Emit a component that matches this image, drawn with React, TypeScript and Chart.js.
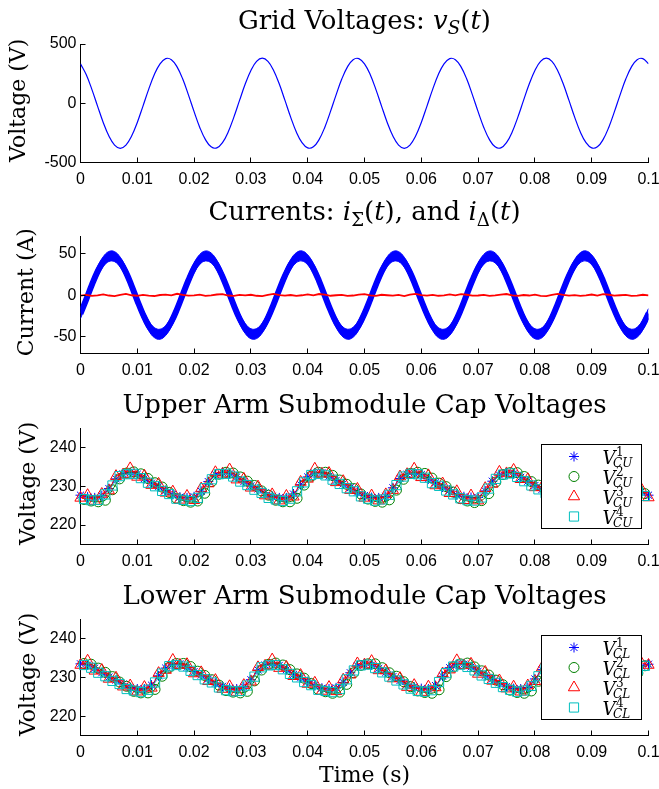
import React, { useEffect, useRef } from 'react';
import { Chart, registerables } from 'chart.js';
import { drawPoint } from 'chart.js/helpers';

Chart.register(...registerables);

const PAGE_W = 659;
const PAGE_H = 789;
const SERIF = '"DejaVu Serif", serif';
const SANS = '"Liberation Sans", Arial, sans-serif';
const BLUE = '#0000ff';
const GREEN = '#008000';
const RED = '#ff0000';
const CYAN = '#00bfbf';

// ---------- tick labels ----------
const xTickValues = [0, 0.01, 0.02, 0.03, 0.04, 0.05, 0.06, 0.07, 0.08, 0.09, 0.1];
const xTickLabels = ['0', '0.01', '0.02', '0.03', '0.04', '0.05', '0.06', '0.07', '0.08', '0.09', '0.1'];
const yTicksGrid = [-500, 0, 500];
const yTicksCurrent = [-50, 0, 50];
const yTicksCap = [220, 230, 240];

// ---------- time base (s) ----------
const timeFine = [
  0, 0.001, 0.002, 0.003, 0.004, 0.005, 0.006, 0.007, 0.008, 0.009,
  0.01, 0.011, 0.012, 0.013, 0.014, 0.015, 0.016, 0.017, 0.018, 0.019,
  0.02, 0.021, 0.022, 0.023, 0.024, 0.025, 0.026, 0.027, 0.028, 0.029,
  0.03, 0.031, 0.032, 0.033, 0.034, 0.035, 0.036, 0.037, 0.038, 0.039,
  0.04, 0.041, 0.042, 0.043, 0.044, 0.045, 0.046, 0.047, 0.048, 0.049,
  0.05, 0.051, 0.052, 0.053, 0.054, 0.055, 0.056, 0.057, 0.058, 0.059,
  0.06, 0.061, 0.062, 0.063, 0.064, 0.065, 0.066, 0.067, 0.068, 0.069,
  0.07, 0.071, 0.072, 0.073, 0.074, 0.075, 0.076, 0.077, 0.078, 0.079,
  0.08, 0.081, 0.082, 0.083, 0.084, 0.085, 0.086, 0.087, 0.088, 0.089,
  0.09, 0.091, 0.092, 0.093, 0.094, 0.095, 0.096, 0.097, 0.098, 0.099,
  0.1,
];

// ---------- grid voltage v_S (V) ----------
const gridVoltage = [
  333, 242, 117, -24, -162, -277, -353, -380, -353, -277,
  -162, -24, 117, 242, 333, 377, 368, 307, 204, 71,
  -71, -204, -307, -368, -377, -333, -242, -117, 24, 162,
  277, 353, 380, 353, 277, 162, 24, -117, -242, -333,
  -377, -368, -307, -204, -71, 71, 204, 307, 368, 377,
  333, 242, 117, -24, -162, -277, -353, -380, -353, -277,
  -162, -24, 117, 242, 333, 377, 368, 307, 204, 71,
  -71, -204, -307, -368, -377, -333, -242, -117, 24, 162,
  277, 353, 380, 353, 277, 162, 24, -117, -242, -333,
  -377, -368, -307, -204, -71, 71, 204, 307, 368, 377,
  333,
];

// ---------- i_Sigma (A): centre and ripple envelope ----------
const iSigma = [
  -22.1, -5.3, 12.2, 28.1, 40.0, 46.3, 46.1, 39.4, 27.2, 11.1,
  -6.5, -23.1, -36.6, -44.9, -46.9, -42.3, -31.8, -16.8, 0.6, 17.8,
  32.6, 42.8, 46.9, 44.5, 35.8, 22.1, 5.3, -12.2, -28.1, -40.0,
  -46.3, -46.1, -39.4, -27.2, -11.1, 6.5, 23.1, 36.6, 44.9, 46.9,
  42.3, 31.8, 16.8, -0.6, -17.8, -32.6, -42.8, -46.9, -44.5, -35.8,
  -22.1, -5.3, 12.2, 28.1, 40.0, 46.3, 46.1, 39.4, 27.2, 11.1,
  -6.5, -23.1, -36.6, -44.9, -46.9, -42.3, -31.8, -16.8, 0.6, 17.8,
  32.6, 42.8, 46.9, 44.5, 35.8, 22.1, 5.3, -12.2, -28.1, -40.0,
  -46.3, -46.1, -39.4, -27.2, -11.1, 6.5, 23.1, 36.6, 44.9, 46.9,
  42.3, 31.8, 16.8, -0.6, -17.8, -32.6, -42.8, -46.9, -44.5, -35.8,
  -22.1,
];
const iSigmaUpper = [
  -16.1, 0.7, 18.2, 34.1, 46.0, 52.3, 52.1, 45.4, 33.2, 17.1,
  -0.5, -17.1, -30.6, -38.9, -40.9, -36.3, -25.8, -10.8, 6.6, 23.8,
  38.6, 48.8, 52.9, 50.5, 41.8, 28.1, 11.3, -6.2, -22.1, -34.0,
  -40.3, -40.1, -33.4, -21.2, -5.1, 12.5, 29.1, 42.6, 50.9, 52.9,
  48.3, 37.8, 22.8, 5.4, -11.8, -26.6, -36.8, -40.9, -38.5, -29.8,
  -16.1, 0.7, 18.2, 34.1, 46.0, 52.3, 52.1, 45.4, 33.2, 17.1,
  -0.5, -17.1, -30.6, -38.9, -40.9, -36.3, -25.8, -10.8, 6.6, 23.8,
  38.6, 48.8, 52.9, 50.5, 41.8, 28.1, 11.3, -6.2, -22.1, -34.0,
  -40.3, -40.1, -33.4, -21.2, -5.1, 12.5, 29.1, 42.6, 50.9, 52.9,
  48.3, 37.8, 22.8, 5.4, -11.8, -26.6, -36.8, -40.9, -38.5, -29.8,
  -16.1,
];
const iSigmaLower = [
  -28.1, -11.3, 6.2, 22.1, 34.0, 40.3, 40.1, 33.4, 21.2, 5.1,
  -12.5, -29.1, -42.6, -50.9, -52.9, -48.3, -37.8, -22.8, -5.4, 11.8,
  26.6, 36.8, 40.9, 38.5, 29.8, 16.1, -0.7, -18.2, -34.1, -46.0,
  -52.3, -52.1, -45.4, -33.2, -17.1, 0.5, 17.1, 30.6, 38.9, 40.9,
  36.3, 25.8, 10.8, -6.6, -23.8, -38.6, -48.8, -52.9, -50.5, -41.8,
  -28.1, -11.3, 6.2, 22.1, 34.0, 40.3, 40.1, 33.4, 21.2, 5.1,
  -12.5, -29.1, -42.6, -50.9, -52.9, -48.3, -37.8, -22.8, -5.4, 11.8,
  26.6, 36.8, 40.9, 38.5, 29.8, 16.1, -0.7, -18.2, -34.1, -46.0,
  -52.3, -52.1, -45.4, -33.2, -17.1, 0.5, 17.1, 30.6, 38.9, 40.9,
  36.3, 25.8, 10.8, -6.6, -23.8, -38.6, -48.8, -52.9, -50.5, -41.8,
  -28.1,
];

// ---------- i_Delta (A) ----------
const iDelta = [
  -0.6, 0.2, -0.9, -0.3, 0.8, -0.5, -1.2, 0.4, 1.5, -0.2,
  -0.8, 0.3, -0.6, -1.1, 0.1, 0.6, -0.4, 1.6, 0.2, -0.7,
  -0.3, 0.5, -1.0, -0.4, 0.7, 1.2, -0.5, -0.9, 0.2, -0.3,
  0.4, -0.8, -1.3, 0.3, 1.4, 0.0, -0.6, 0.1, -0.9, -0.2,
  0.9, -0.4, 1.3, 0.5, -0.8, -0.2, 0.3, -1.0, -0.5, 0.6,
  1.1, -0.3, -0.9, 0.4, -0.2, -0.7, 0.2, -1.1, 0.5, 1.5,
  -0.1, -0.6, 0.3, -0.8, -0.4, 0.8, -0.3, 1.2, 0.4, -0.7,
  -0.5, 0.2, -1.0, -0.3, 0.6, 1.3, -0.4, -0.8, 0.1, -0.5,
  0.5, -0.9, -1.2, 0.2, 1.4, 0.3, -0.6, -0.1, -0.9, -0.3,
  0.7, -0.5, 1.1, 0.4, -0.7, -0.2, 0.3, -1.0, -0.6, 0.4,
  -0.3,
];

// ---------- submodule sample times (s) ----------
const tSmEven = [
  0, 0.00125, 0.0025, 0.00375, 0.005, 0.00625, 0.0075, 0.00875, 0.01, 0.01125,
  0.0125, 0.01375, 0.015, 0.01625, 0.0175, 0.01875, 0.02, 0.02125, 0.0225, 0.02375,
  0.025, 0.02625, 0.0275, 0.02875, 0.03, 0.03125, 0.0325, 0.03375, 0.035, 0.03625,
  0.0375, 0.03875, 0.04, 0.04125, 0.0425, 0.04375, 0.045, 0.04625, 0.0475, 0.04875,
  0.05, 0.05125, 0.0525, 0.05375, 0.055, 0.05625, 0.0575, 0.05875, 0.06, 0.06125,
  0.0625, 0.06375, 0.065, 0.06625, 0.0675, 0.06875, 0.07, 0.07125, 0.0725, 0.07375,
  0.075, 0.07625, 0.0775, 0.07875, 0.08, 0.08125, 0.0825, 0.08375, 0.085, 0.08625,
  0.0875, 0.08875, 0.09, 0.09125, 0.0925, 0.09375, 0.095, 0.09625, 0.0975, 0.09875,
  0.1,
];
const tSmOdd = [
  0.000625, 0.001875, 0.003125, 0.004375, 0.005625, 0.006875, 0.008125, 0.009375, 0.010625, 0.011875,
  0.013125, 0.014375, 0.015625, 0.016875, 0.018125, 0.019375, 0.020625, 0.021875, 0.023125, 0.024375,
  0.025625, 0.026875, 0.028125, 0.029375, 0.030625, 0.031875, 0.033125, 0.034375, 0.035625, 0.036875,
  0.038125, 0.039375, 0.040625, 0.041875, 0.043125, 0.044375, 0.045625, 0.046875, 0.048125, 0.049375,
  0.050625, 0.051875, 0.053125, 0.054375, 0.055625, 0.056875, 0.058125, 0.059375, 0.060625, 0.061875,
  0.063125, 0.064375, 0.065625, 0.066875, 0.068125, 0.069375, 0.070625, 0.071875, 0.073125, 0.074375,
  0.075625, 0.076875, 0.078125, 0.079375, 0.080625, 0.081875, 0.083125, 0.084375, 0.085625, 0.086875,
  0.088125, 0.089375, 0.090625, 0.091875, 0.093125, 0.094375, 0.095625, 0.096875, 0.098125, 0.099375,
];

// ---------- upper arm capacitor voltages (V) ----------
const vCU1 = [
  227.7, 227.2, 227.0, 227.5, 229.4, 231.9, 233.2, 233.5, 233.1, 232.0,
  230.8, 229.9, 228.9, 227.9, 227.2, 227.0, 227.3, 228.7, 231.2, 233.0,
  233.5, 233.2, 232.4, 231.2, 230.1, 229.3, 228.3, 227.4, 227.0, 227.0,
  228.0, 230.4, 232.4, 233.4, 233.5, 232.6, 231.5, 230.6, 229.6, 228.5,
  227.6, 227.1, 227.0, 227.4, 229.6, 232.0, 233.1, 233.4, 233.0, 231.9,
  230.9, 229.8, 229.0, 227.8, 227.3, 227.1, 227.1, 228.8, 231.3, 232.9,
  233.4, 233.2, 232.3, 231.3, 230.2, 229.2, 228.2, 227.5, 227.1, 227.0,
  227.9, 230.3, 232.5, 233.3, 233.4, 232.7, 231.6, 230.5, 229.6, 228.6,
  227.7,
];
const vCU2 = [
  226.6, 226.2, 226.0, 226.4, 229.1, 231.9, 233.4, 233.7, 233.2, 232.0,
  230.9, 229.8, 228.4, 226.9, 226.3, 225.9, 226.2, 228.2, 231.2, 233.1,
  233.6, 233.4, 232.4, 231.3, 230.2, 228.8, 227.7, 226.4, 226.0, 226.0,
  226.9, 230.3, 232.6, 233.6, 233.6, 232.8, 231.6, 230.5, 229.4, 228.0,
  226.7, 226.1, 225.9, 226.5, 229.0, 231.8, 233.3, 233.6, 233.3, 232.1,
  230.8, 229.9, 228.5, 226.8, 226.2, 225.8, 226.3, 228.1, 231.1, 233.0,
  233.5, 233.5, 232.5, 231.2, 230.3, 228.9, 227.6, 226.5, 226.1, 225.9,
  226.8, 230.2, 232.7, 233.5, 233.7, 232.7, 231.7, 230.6, 229.3, 228.1,
];
const vCU3 = [
  227.0, 227.7, 226.2, 228.0, 228.9, 232.6, 233.0, 234.6, 232.4, 232.7,
  230.3, 230.6, 228.3, 228.6, 226.5, 227.5, 226.4, 229.4, 230.7, 233.6,
  233.2, 234.3, 231.7, 231.9, 229.6, 229.9, 227.6, 227.9, 226.3, 227.5,
  227.3, 231.1, 231.9, 234.5, 233.2, 233.4, 231.0, 231.3, 229.0, 229.3,
  227.0, 227.6, 226.3, 227.9, 229.0, 232.5, 233.1, 234.5, 232.3, 232.8,
  230.2, 230.7, 228.2, 228.7, 226.4, 227.6, 226.3, 229.5, 230.6, 233.7,
  233.3, 234.2, 231.8, 231.8, 229.7, 229.8, 227.5, 228.0, 226.2, 227.6,
  227.4, 231.0, 232.0, 234.4, 233.1, 233.5, 230.9, 231.4, 229.1, 229.2,
  227.1,
];
const vCU4 = [
  226.7, 226.4, 226.5, 227.9, 230.2, 232.6, 233.1, 233.2, 232.1, 230.9,
  230.0, 228.8, 228.0, 226.8, 226.5, 226.2, 227.0, 229.5, 231.8, 233.1,
  233.2, 232.5, 231.2, 230.3, 229.1, 228.3, 227.0, 226.6, 226.2, 226.8,
  228.7, 231.0, 232.9, 233.2, 232.8, 231.7, 230.6, 229.5, 228.7, 227.4,
  226.8, 226.3, 226.6, 227.8, 230.3, 232.5, 233.2, 233.1, 232.2, 230.8,
  230.1, 228.9, 227.9, 226.9, 226.4, 226.3, 227.1, 229.4, 231.9, 233.0,
  233.3, 232.4, 231.3, 230.2, 229.2, 228.2, 227.1, 226.5, 226.3, 226.7,
  228.8, 231.1, 232.8, 233.3, 232.7, 231.8, 230.5, 229.6, 228.6, 227.5,
];

// ---------- lower arm capacitor voltages (V) ----------
const vCL1 = [
  233.5, 233.2, 232.4, 231.2, 230.1, 229.3, 228.3, 227.4, 227.0, 227.0,
  228.0, 230.4, 232.4, 233.4, 233.5, 232.6, 231.5, 230.6, 229.6, 228.5,
  227.7, 227.2, 227.0, 227.5, 229.4, 231.9, 233.2, 233.5, 233.1, 232.0,
  230.8, 229.9, 228.9, 227.9, 227.2, 227.0, 227.3, 228.7, 231.2, 233.0,
  233.4, 233.2, 232.3, 231.3, 230.2, 229.2, 228.2, 227.5, 227.1, 227.0,
  227.9, 230.3, 232.5, 233.3, 233.4, 232.7, 231.6, 230.5, 229.6, 228.6,
  227.6, 227.1, 227.0, 227.4, 229.6, 232.0, 233.1, 233.4, 233.0, 231.9,
  230.9, 229.8, 229.0, 227.8, 227.3, 227.1, 227.1, 228.8, 231.3, 232.9,
  233.4,
];
const vCL2 = [
  233.6, 233.4, 232.4, 231.3, 230.2, 228.8, 227.7, 226.4, 226.0, 226.0,
  226.9, 230.3, 232.6, 233.6, 233.6, 232.8, 231.6, 230.5, 229.4, 228.0,
  226.6, 226.2, 226.0, 226.4, 229.1, 231.9, 233.4, 233.7, 233.2, 232.0,
  230.9, 229.8, 228.4, 226.9, 226.3, 225.9, 226.2, 228.2, 231.2, 233.1,
  233.5, 233.5, 232.5, 231.2, 230.3, 228.9, 227.6, 226.5, 226.1, 225.9,
  226.8, 230.2, 232.7, 233.5, 233.7, 232.7, 231.7, 230.6, 229.3, 228.1,
  226.7, 226.1, 225.9, 226.5, 229.0, 231.8, 233.3, 233.6, 233.3, 232.1,
  230.8, 229.9, 228.5, 226.8, 226.2, 225.8, 226.3, 228.1, 231.1, 233.0,
];
const vCL3 = [
  233.2, 234.3, 231.7, 231.9, 229.6, 229.9, 227.6, 227.9, 226.3, 227.5,
  227.3, 231.1, 231.9, 234.5, 233.2, 233.4, 231.0, 231.3, 229.0, 229.3,
  227.0, 227.7, 226.2, 228.0, 228.9, 232.6, 233.0, 234.6, 232.4, 232.7,
  230.3, 230.6, 228.3, 228.6, 226.5, 227.5, 226.4, 229.4, 230.7, 233.6,
  233.3, 234.2, 231.8, 231.8, 229.7, 229.8, 227.5, 228.0, 226.2, 227.6,
  227.4, 231.0, 232.0, 234.4, 233.1, 233.5, 230.9, 231.4, 229.1, 229.2,
  227.1, 227.6, 226.3, 227.9, 229.0, 232.5, 233.1, 234.5, 232.3, 232.8,
  230.2, 230.7, 228.2, 228.7, 226.4, 227.6, 226.3, 229.5, 230.6, 233.7,
  233.2,
];
const vCL4 = [
  233.2, 232.5, 231.2, 230.3, 229.1, 228.3, 227.0, 226.6, 226.2, 226.8,
  228.7, 231.0, 232.9, 233.2, 232.8, 231.7, 230.6, 229.5, 228.7, 227.4,
  226.7, 226.4, 226.5, 227.9, 230.2, 232.6, 233.1, 233.2, 232.1, 230.9,
  230.0, 228.8, 228.0, 226.8, 226.5, 226.2, 227.0, 229.5, 231.8, 233.1,
  233.3, 232.4, 231.3, 230.2, 229.2, 228.2, 227.1, 226.5, 226.3, 226.7,
  228.8, 231.1, 232.8, 233.3, 232.7, 231.8, 230.5, 229.6, 228.6, 227.5,
  226.8, 226.3, 226.6, 227.8, 230.3, 232.5, 233.2, 233.1, 232.2, 230.8,
  230.1, 228.9, 227.9, 226.9, 226.4, 226.3, 227.1, 229.4, 231.9, 233.0,
];

const legendSup = ['1', '2', '3', '4'];

// ---------- text helpers ----------
type Run = { t: string; i?: boolean; pos?: 'sub' | 'sup' };

function runFont(r: Run, size: number) {
  const s = r.pos ? size * 0.7 : size;
  return `${r.i ? 'italic ' : ''}${s}px ${SERIF}`;
}

function drawRuns(ctx: CanvasRenderingContext2D, runs: Run[], x: number, y: number, size: number) {
  let total = 0;
  const widths = runs.map((r) => {
    ctx.font = runFont(r, size);
    const w = ctx.measureText(r.t).width;
    total += w;
    return w;
  });
  let cx = x - total / 2;
  ctx.textAlign = 'left';
  ctx.textBaseline = 'alphabetic';
  runs.forEach((r, k) => {
    ctx.font = runFont(r, size);
    const dy = r.pos === 'sub' ? size * 0.22 : r.pos === 'sup' ? -size * 0.4 : 0;
    ctx.fillText(r.t, cx, y + dy);
    cx += widths[k];
  });
}

const decorPlugin = {
  id: 'decor',
  afterDraw(chart: any, _args: any, opts: any) {
    const { ctx, chartArea: ca } = chart;
    const xs = chart.scales.x;
    const ys = chart.scales.y;
    ctx.save();
    // inward tick marks
    ctx.strokeStyle = '#000';
    ctx.lineWidth = 1;
    ctx.beginPath();
    xs.ticks.forEach((tk: any) => {
      const px = Math.floor(xs.getPixelForValue(tk.value)) + 0.5;
      ctx.moveTo(px, ca.bottom);
      ctx.lineTo(px, ca.bottom - 5);
    });
    ys.ticks.forEach((tk: any) => {
      const py = Math.floor(ys.getPixelForValue(tk.value)) + 0.5;
      ctx.moveTo(ca.left, py);
      ctx.lineTo(ca.left + 5, py);
    });
    ctx.stroke();

    ctx.fillStyle = '#000';
    const mid = (ca.left + ca.right) / 2;
    drawRuns(ctx, opts.title, mid, ca.top - opts.titleOffset, 26);

    ctx.save();
    ctx.translate(opts.yLabelX, (ca.top + ca.bottom) / 2 - 3);
    ctx.rotate(-Math.PI / 2);
    drawRuns(ctx, opts.yLabel, 0, 0, 22);
    ctx.restore();

    if (opts.xLabel) {
      drawRuns(ctx, opts.xLabel, mid, ca.bottom + 46, 22);
    }

    if (opts.legend) {
      const bx = Math.round(ca.right - 108) + 0.5;
      const by = Math.round(ca.top + 16) + 0.5;
      const bw = 100;
      const bh = 84;
      ctx.fillStyle = '#fff';
      ctx.fillRect(bx, by, bw, bh);
      ctx.strokeStyle = '#000';
      ctx.lineWidth = 1;
      ctx.strokeRect(bx, by, bw, bh);
      opts.legend.items.forEach((it: any, k: number) => {
        const cy = by + 12 + 20 * k;
        const mx = bx + 32.5;
        ctx.strokeStyle = it.color;
        ctx.fillStyle = 'rgba(0,0,0,0)';
        ctx.lineWidth = 1;
        drawPoint(ctx, { pointStyle: it.style, radius: it.radius, rotation: 0, borderWidth: 1 } as any, mx, cy);
        ctx.fillStyle = '#000';
        ctx.textAlign = 'left';
        ctx.textBaseline = 'alphabetic';
        const tx = bx + 61;
        ctx.font = `italic 18px ${SERIF}`;
        ctx.fillText('V', tx, cy + 7);
        const w = ctx.measureText('V').width;
        ctx.font = `12px ${SERIF}`;
        ctx.fillText(it.sup, tx + w + 0.5, cy - 1);
        ctx.font = `italic 12px ${SERIF}`;
        ctx.fillText(opts.legend.sub, tx + w - 2.5, cy + 10);
      });
    }
    ctx.restore();
  },
};

const YW = 50;
const XH = 30;

type Area = { left: number; right: number; top: number; bottom: number };

function makeOptions(area: Area, yMin: number, yMax: number, yTickValues: number[], decor: any) {
  return {
    responsive: false,
    animation: false,
    events: [],
    layout: {
      padding: {
        left: area.left - YW,
        right: PAGE_W - area.right,
        top: area.top,
        bottom: PAGE_H - area.bottom - XH,
      },
    },
    plugins: {
      legend: { display: false },
      tooltip: { enabled: false },
      title: { display: false },
      decor,
    },
    scales: {
      x: {
        type: 'linear',
        min: 0,
        max: 0.1,
        afterBuildTicks: (s: any) => {
          s.ticks = xTickValues.map((v) => ({ value: v }));
        },
        afterFit: (s: any) => {
          s.height = XH;
          s.paddingLeft = 0;
          s.paddingRight = 0;
        },
        grid: { display: true, drawOnChartArea: false, drawTicks: false },
        border: { display: true, color: '#000', width: 1 },
        ticks: {
          autoSkip: false,
          maxRotation: 0,
          minRotation: 0,
          padding: 7,
          color: '#000',
          font: { family: SANS, size: 16 },
          callback: (_v: any, i: number) => xTickLabels[i],
        },
      },
      y: {
        type: 'linear',
        min: yMin,
        max: yMax,
        afterBuildTicks: (s: any) => {
          s.ticks = yTickValues.map((v) => ({ value: v }));
        },
        afterFit: (s: any) => {
          s.width = YW;
          s.paddingTop = 0;
          s.paddingBottom = 0;
        },
        grid: { display: true, drawOnChartArea: false, drawTicks: false },
        border: { display: true, color: '#000', width: 1 },
        ticks: {
          autoSkip: false,
          padding: 4,
          color: '#000',
          font: { family: SANS, size: 16 },
          callback: (v: any) => String(v),
        },
      },
    },
  };
}

function pts(xs: number[], ys: number[]) {
  return xs.map((x, i) => ({ x, y: ys[i] }));
}

function markerSet(xs: number[], ys: number[], color: string, style: string, radius: number, order: number) {
  return {
    data: pts(xs, ys),
    borderColor: color,
    borderWidth: 1,
    pointStyle: style,
    pointRadius: radius,
    pointBorderColor: color,
    pointBackgroundColor: 'rgba(0,0,0,0)',
    pointBorderWidth: 1,
    tension: 0.2,
    fill: false,
    order,
    clip: false,
  };
}

const AREA1: Area = { left: 80.5, right: 648.5, top: 44, bottom: 162.5 };
const AREA2: Area = { left: 80.5, right: 648.5, top: 236.7, bottom: 353.5 };
const AREA3: Area = { left: 80.5, right: 648.5, top: 428, bottom: 544.5 };
const AREA4: Area = { left: 80.5, right: 648.5, top: 619.3, bottom: 735.5 };

const legendStyles = [
  { color: BLUE, style: 'star', radius: 5 },
  { color: GREEN, style: 'circle', radius: 5 },
  { color: RED, style: 'triangle', radius: 6.5 },
  { color: CYAN, style: 'rect', radius: 6.5 },
];

function buildConfigs(): any[] {
  const c1 = {
    type: 'line',
    data: {
      datasets: [
        { data: pts(timeFine, gridVoltage), borderColor: BLUE, borderWidth: 1.2, pointRadius: 0, tension: 0.4, fill: false },
      ],
    },
    options: makeOptions(AREA1, -500, 500, yTicksGrid, {
      title: [
        { t: 'Grid Voltages: ' },
        { t: 'v', i: true },
        { t: 'S', i: true, pos: 'sub' },
        { t: '(' },
        { t: 't', i: true },
        { t: ')' },
      ],
      titleOffset: 15.5,
      yLabel: [{ t: 'Voltage (V)' }],
      yLabelX: 25,
    }),
    plugins: [decorPlugin],
  };

  const c2 = {
    type: 'line',
    data: {
      datasets: [
        { data: pts(timeFine, iDelta), borderColor: RED, borderWidth: 1.8, pointRadius: 0, tension: 0, fill: false },
        { data: pts(timeFine, iSigmaUpper), borderColor: BLUE, borderWidth: 1, pointRadius: 0, tension: 0.4, fill: false },
        { data: pts(timeFine, iSigmaLower), borderColor: BLUE, borderWidth: 1, pointRadius: 0, tension: 0.4, fill: '-1', backgroundColor: BLUE },
        { data: pts(timeFine, iSigma), borderColor: BLUE, borderWidth: 6, pointRadius: 0, tension: 0.4, fill: false },
      ],
    },
    options: makeOptions(AREA2, -70, 70, yTicksCurrent, {
      title: [
        { t: 'Currents: ' },
        { t: 'i', i: true },
        { t: 'Σ', pos: 'sub' },
        { t: '(' },
        { t: 't', i: true },
        { t: '), and ' },
        { t: 'i', i: true },
        { t: 'Δ', pos: 'sub' },
        { t: '(' },
        { t: 't', i: true },
        { t: ')' },
      ],
      titleOffset: 16.5,
      yLabel: [{ t: 'Current (A)' }],
      yLabelX: 33,
    }),
    plugins: [decorPlugin],
  };

  const legendItems = legendStyles.map((s, k) => ({ ...s, sup: legendSup[k] }));

  // drawing order like MATLAB: V1 at the bottom, V4 on top
  const c3 = {
    type: 'line',
    data: {
      datasets: [
        markerSet(tSmEven, vCU1, BLUE, 'star', 5, 3),
        markerSet(tSmOdd, vCU2, GREEN, 'circle', 5, 2),
        markerSet(tSmEven, vCU3, RED, 'triangle', 6.5, 1),
        markerSet(tSmOdd, vCU4, CYAN, 'rect', 6.5, 0),
      ],
    },
    options: makeOptions(AREA3, 215, 245, yTicksCap, {
      title: [{ t: 'Upper Arm Submodule Cap Voltages' }],
      titleOffset: 15,
      yLabel: [{ t: 'Voltage (V)' }],
      yLabelX: 34.5,
      legend: { items: legendItems, sub: 'CU' },
    }),
    plugins: [decorPlugin],
  };

  const c4 = {
    type: 'line',
    data: {
      datasets: [
        markerSet(tSmEven, vCL1, BLUE, 'star', 5, 3),
        markerSet(tSmOdd, vCL2, GREEN, 'circle', 5, 2),
        markerSet(tSmEven, vCL3, RED, 'triangle', 6.5, 1),
        markerSet(tSmOdd, vCL4, CYAN, 'rect', 6.5, 0),
      ],
    },
    options: makeOptions(AREA4, 215, 245, yTicksCap, {
      title: [{ t: 'Lower Arm Submodule Cap Voltages' }],
      titleOffset: 15,
      yLabel: [{ t: 'Voltage (V)' }],
      yLabelX: 34.5,
      xLabel: [{ t: 'Time (s)' }],
      legend: { items: legendItems, sub: 'CL' },
    }),
    plugins: [decorPlugin],
  };

  return [c1, c2, c3, c4];
}

export default function App() {
  const r1 = useRef<HTMLCanvasElement>(null);
  const r2 = useRef<HTMLCanvasElement>(null);
  const r3 = useRef<HTMLCanvasElement>(null);
  const r4 = useRef<HTMLCanvasElement>(null);

  useEffect(() => {
    const refs = [r1, r2, r3, r4];
    const cfgs = buildConfigs();
    const charts = refs.map((r, i) => new Chart(r.current as HTMLCanvasElement, cfgs[i]));
    return () => charts.forEach((c) => c.destroy());
  }, []);

  const cs: React.CSSProperties = { position: 'absolute', left: 0, top: 0, width: PAGE_W, height: PAGE_H };
  return (
    <div style={{ position: 'fixed', left: 0, top: 0, width: PAGE_W, height: PAGE_H, background: '#fff' }}>
      <canvas ref={r1} width={PAGE_W} height={PAGE_H} style={cs} />
      <canvas ref={r2} width={PAGE_W} height={PAGE_H} style={cs} />
      <canvas ref={r3} width={PAGE_W} height={PAGE_H} style={cs} />
      <canvas ref={r4} width={PAGE_W} height={PAGE_H} style={cs} />
    </div>
  );
}
